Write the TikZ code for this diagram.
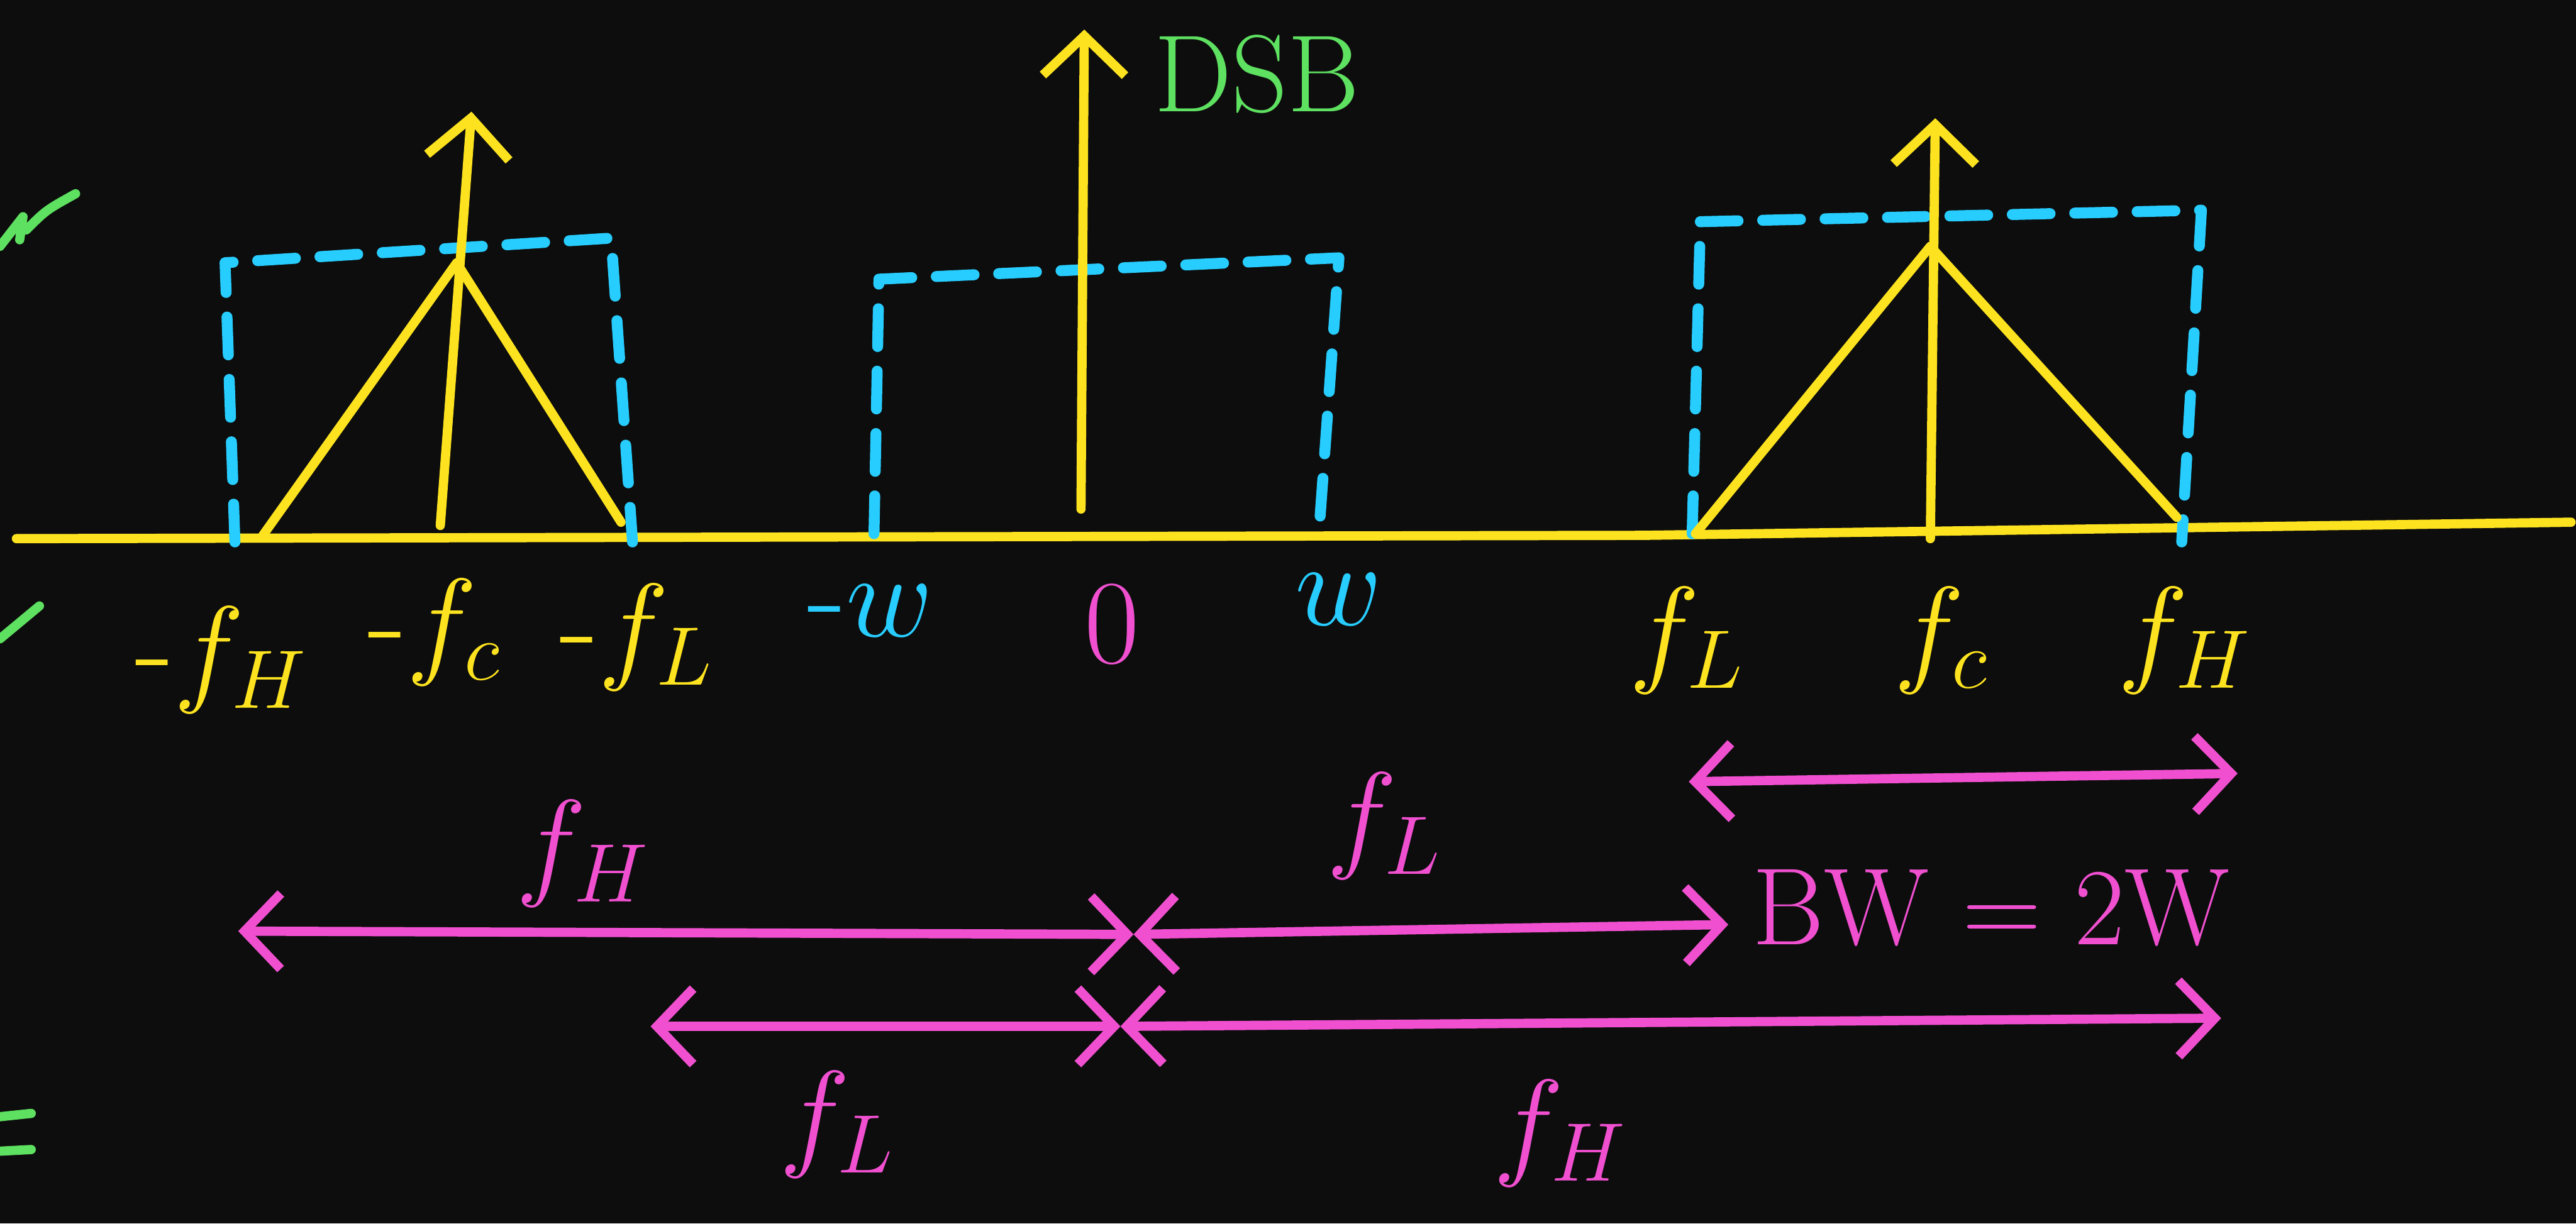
\documentclass[tikz,border=0pt]{standalone}
\usetikzlibrary{arrows.meta}
\definecolor{board}{HTML}{0D0D0D}
\definecolor{chalkY}{HTML}{FDE31F}
\definecolor{chalkB}{HTML}{27CDFF}
\definecolor{chalkM}{HTML}{F050D0}
\definecolor{chalkG}{HTML}{5EE060}
\begin{document}
\begin{tikzpicture}[x=0.1mm, y=-0.1mm, line cap=round, line join=round,
    ylw/.style={draw=chalkY, line width=1.6pt},
    band/.style={draw=chalkB, line width=1.9pt, dash pattern=on 2.3mm off 1.5mm},
    span/.style={draw=chalkM, line width=1.6pt, {Straight Barb[length=2.2mm,width=4.6mm]}-{Straight Barb[length=2.2mm,width=4.6mm]}},
    up/.style={ylw, -{Straight Barb[length=2.4mm,width=5mm]}},
    lbl/.style={font=\fontsize{22}{26}\selectfont, inner sep=0pt}]
  \fill[board] (0,0) rectangle (1568,745);
  \useasboundingbox (0,0) rectangle (1568,745);
  % frequency axis
  \coordinate (ax0) at (10,328); \coordinate (ax1) at (1000,326); \coordinate (ax2) at (1565,318);
  \draw[ylw] (ax0) -- (ax1) -- (ax2);
  % negative band
  \coordinate (nL) at (143,330); \coordinate (nLt) at (137,160);
  \coordinate (nRt) at (372,145); \coordinate (nR) at (385,330);
  \draw[band] (nL) -- (nLt) -- (nRt) -- (nR);
  \draw[ylw] (160,326) -- (278,160) -- (378,318);
  \draw[up] (268,320) -- (287,68);
  % baseband
  \coordinate (bL) at (532,325); \coordinate (bLt) at (535,170);
  \coordinate (bRt) at (815,157); \coordinate (bR) at (803,322);
  \draw[band] (bL) -- (bLt) -- (bRt) -- (bR);
  \draw[up] (658,310) -- (660,18);
  \node[text=chalkG, font=\fontsize{19}{22}\selectfont, inner sep=0pt] (dsb) at (765,45) {DSB};
  % positive band
  \coordinate (pL) at (1030,325); \coordinate (pLt) at (1035,135);
  \coordinate (pRt) at (1340,128); \coordinate (pR) at (1328,330);
  \draw[band] (pL) -- (pLt) -- (pRt) -- (pR);
  \draw[ylw] (1032,325) -- (1175,150) -- (1325,315);
  \draw[up] (1175,328) -- (1178,72);
  % axis labels
  \node[lbl, text=chalkY] (mfh) at (135,402) {-$f_H$};
  \node[lbl, text=chalkY] (mfc) at (265,385) {-$f_c$};
  \node[lbl, text=chalkY] (mfl) at (388,388) {-$f_L$};
  \node[lbl, text=chalkB] (mw) at (530,372) {-$w$};
  \node[lbl, text=chalkM] (zero) at (677,380) {$0$};
  \node[lbl, text=chalkB] (pw) at (815,365) {$w$};
  \node[lbl, text=chalkY] (fl) at (1027,390) {$f_L$};
  \node[lbl, text=chalkY] (fc) at (1182,390) {$f_c$};
  \node[lbl, text=chalkY] (fh) at (1330,390) {$f_H$};
  % spans
  \coordinate (bw0) at (1028,476); \coordinate (bw1) at (1362,471);
  \draw[span] (bw0) -- (bw1);
  \coordinate (r1a) at (145,567); \coordinate (r1b) at (690,569); \coordinate (r1c) at (1052,563);
  \draw[span] (r1a) -- (r1b);
  \draw[span] (r1b) -- (r1c);
  \coordinate (r2a) at (396,625); \coordinate (r2b) at (682,625); \coordinate (r2c) at (1352,620);
  \draw[span] (r2a) -- (r2b);
  \draw[span] (r2b) -- (r2c);
  \node[lbl, text=chalkM] (s1h) at (355,520) {$f_H$};
  \node[lbl, text=chalkM] (s1l) at (843,503) {$f_L$};
  \node[lbl, text=chalkM] (s2l) at (510,685) {$f_L$};
  \node[lbl, text=chalkM] (s2h) at (950,690) {$f_H$};
  \node[text=chalkM, font=\fontsize{19}{23}\selectfont, inner sep=0pt] (bw) at (1212,553) {BW = 2W};
  % cut-off marks at the left edge
  \draw[chalkG, line width=1.6pt] (0,150) -- (14,132) -- (12,146) (16,140) .. controls (28,128) .. (46,118);
  \draw[chalkG, line width=1.6pt] (0,389) -- (24,369);
  \draw[chalkG, line width=1.6pt] (0,680) -- (19,678) (0,701) -- (19,700);
\end{tikzpicture}
\end{document}
